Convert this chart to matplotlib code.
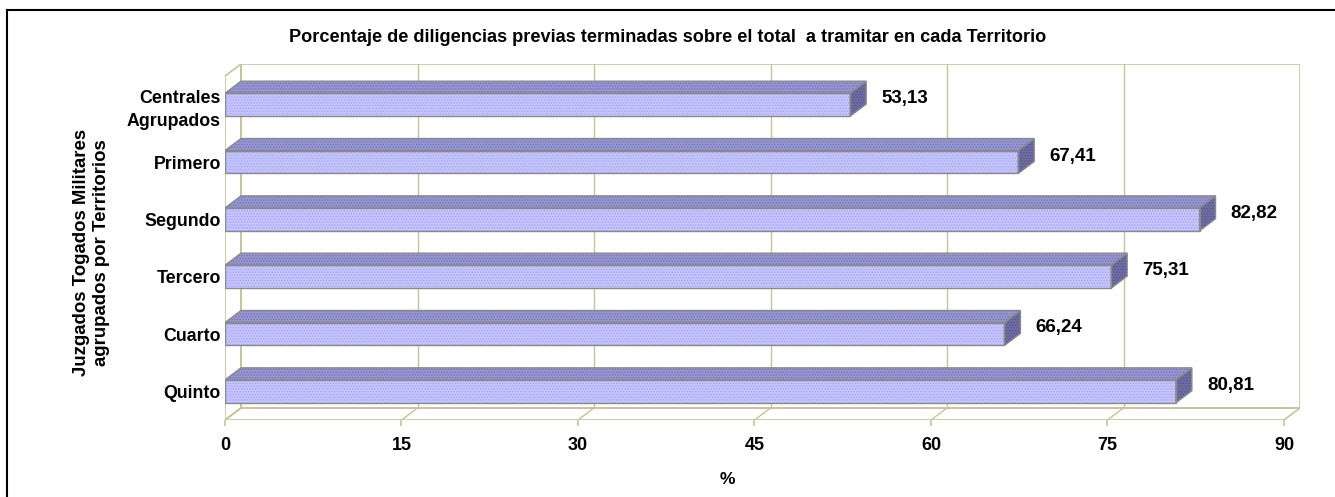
import matplotlib
matplotlib.use("Agg")
import matplotlib.pyplot as plt
from matplotlib.patches import Polygon
from matplotlib.lines import Line2D

plt.rcParams['font.family'] = ['Liberation Sans', 'DejaVu Sans']
plt.rcParams['hatch.linewidth'] = 0.7

# datos
territorios = ['Quinto', 'Cuarto', 'Tercero', 'Segundo', 'Primero', 'Centrales\nAgrupados']
porcentajes = [80.81, 66.24, 75.31, 82.82, 67.41, 53.13]
ticks_x = [0, 15, 30, 45, 60, 75, 90]

titulo = 'Porcentaje de diligencias previas terminadas sobre el total  a tramitar en cada Territorio'
etiqueta_y = 'Juzgados Togados Militares\nagrupados por Territorios'

# profundidad del efecto 3D (en unidades de datos)
ddx = 1.36
ddy = 0.21
alto = 0.40
xmax = 90
n = len(territorios)
pared = '#c8c29c'

fig = plt.figure(figsize=(13.35, 4.97), dpi=100)
ax = fig.add_axes([225 / 1335, 77 / 497, 1075 / 1335, 356 / 497])
ax.set_xlim(0, xmax + ddx)
ax.set_ylim(-0.5, n - 0.5 + ddy)
for s in ax.spines.values():
    s.set_visible(False)

# paredes: fondo, lateral y suelo
y0, y1 = -0.5, n - 0.5
ax.add_patch(Polygon([(ddx, y0 + ddy), (xmax + ddx, y0 + ddy), (xmax + ddx, y1 + ddy), (ddx, y1 + ddy)],
                     closed=True, fill=False, edgecolor=pared, lw=1.2, zorder=1))
ax.add_patch(Polygon([(0, y0), (ddx, y0 + ddy), (ddx, y1 + ddy), (0, y1)],
                     closed=True, fill=False, edgecolor=pared, lw=1.2, zorder=1))
ax.add_patch(Polygon([(0, y0), (xmax, y0), (xmax + ddx, y0 + ddy), (ddx, y0 + ddy)],
                     closed=True, fill=False, edgecolor=pared, lw=1.2, zorder=1))
for t in ticks_x[1:-1]:
    ax.plot([t + ddx, t + ddx], [y0 + ddy, y1 + ddy], color=pared, lw=1.0, zorder=1)
    ax.plot([t, t + ddx], [y0, y0 + ddy], color=pared, lw=1.0, zorder=1)

# barras 3D
for i, v in enumerate(porcentajes):
    b, t = i - alto / 2, i + alto / 2
    frente = [(0, b), (v, b), (v, t), (0, t)]
    arriba = [(0, t), (v, t), (v + ddx, t + ddy), (ddx, t + ddy)]
    lado = [(v, b), (v + ddx, b + ddy), (v + ddx, t + ddy), (v, t)]
    for pts, fc, hc in [(frente, '#c6c6ff', '#a4a4f0'),
                        (arriba, '#9696d2', '#7676b6'),
                        (lado, '#6e6ea4', '#56568a')]:
        ax.add_patch(Polygon(pts, closed=True, facecolor=fc, edgecolor=hc, hatch='......', lw=0, zorder=3))
        ax.add_patch(Polygon(pts, closed=True, fill=False, edgecolor='#8a8a8a', lw=1.0, zorder=4))
    ax.annotate(f'{v:.2f}'.replace('.', ','), xy=(v + ddx, i + ddy / 2), xytext=(11, 0),
                textcoords='offset points', ha='left', va='center',
                fontsize=13.5, fontweight='bold', zorder=5)

ax.set_xticks(ticks_x)
ax.set_xticklabels([str(t) for t in ticks_x], fontsize=13, fontweight='bold')
ax.tick_params(axis='x', length=4, color=pared, width=1.2, pad=8)
ax.set_yticks(range(n))
ax.set_yticklabels(territorios, fontsize=12.8, fontweight='bold', linespacing=1.5)
ax.tick_params(axis='y', length=0, pad=3)

ax.set_xlabel('%', fontsize=12.5, fontweight='bold')
ax.xaxis.set_label_coords(0.467, -0.145)
ax.set_ylabel(etiqueta_y, fontsize=13.4, fontweight='bold', linespacing=1.2)
ax.yaxis.set_label_coords(-0.107, 0.47)
fig.text(0.5, 1 - 37 / 497, titulo, ha='center', va='center', fontsize=13.1, fontweight='bold')

# marco exterior (solo se ven los bordes superior e izquierdo)
fig.add_artist(Line2D([7 / 1335, 1], [1 - 10 / 497, 1 - 10 / 497], transform=fig.transFigure,
                      color='black', lw=1.5))
fig.add_artist(Line2D([7 / 1335, 7 / 1335], [0, 1 - 10 / 497], transform=fig.transFigure,
                      color='black', lw=1.5))

fig.savefig('out.png', dpi=100)
